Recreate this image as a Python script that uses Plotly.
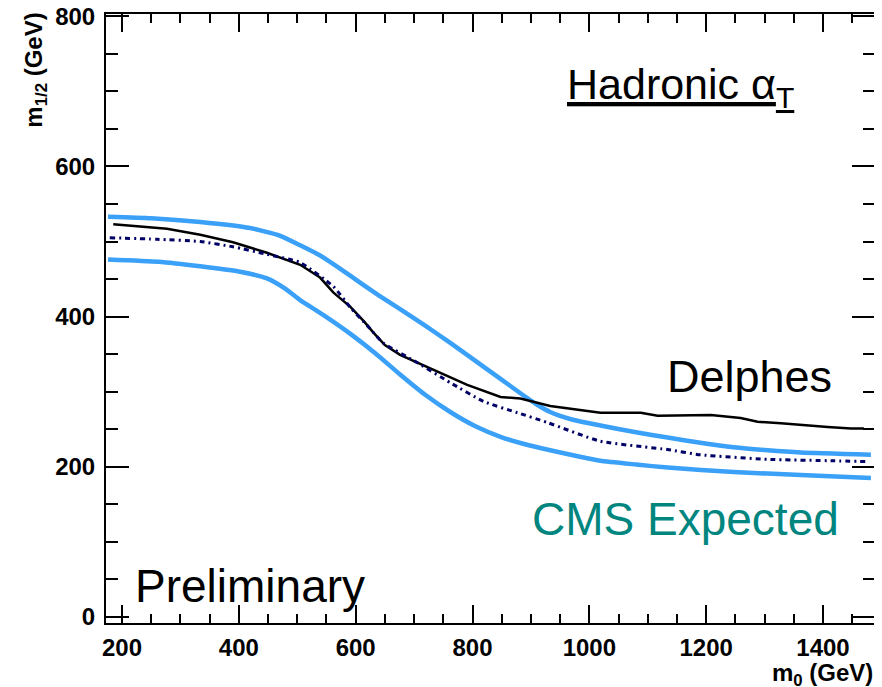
import plotly.graph_objects as go

# CMS expected limit, upper band (+1 sigma)
up_x = [176, 250, 334, 419, 470, 505, 540, 575, 610, 640, 676, 719, 762, 805, 848, 882, 910, 933, 970, 1019, 1080, 1134, 1190, 1247, 1305, 1362, 1482]
up_y = [533, 531, 526, 518, 508, 495, 481, 463, 444, 428, 410, 388, 365, 341, 317, 298, 283, 273, 263, 255, 246, 239, 232, 226, 222, 219, 216]

# CMS expected limit, lower band (-1 sigma)
lo_x = [176, 262, 334, 400, 448, 478, 505, 533, 562, 591, 634, 676, 719, 762, 805, 848, 890, 933, 980, 1019, 1080, 1134, 1247, 1362, 1482]
lo_y = [476, 473, 467, 460, 451, 438, 422, 408, 393, 377, 351, 323, 296, 273, 254, 240, 230, 222, 214, 208, 203, 199, 193, 189, 185]

# CMS expected (central, dash-dot)
exp_x = [179, 260, 334, 390, 448, 505, 562, 591, 620, 647, 705, 762, 819, 877, 928, 1019, 1134, 1190, 1305, 1419, 1477]
exp_y = [505, 503, 500, 493, 483, 472, 440, 412, 388, 365, 339, 312, 287, 272, 259, 234, 223, 216, 210, 208, 207]

# Delphes
del_x = [185, 277, 334, 390, 448, 505, 539, 562, 591, 615, 630, 650, 676, 733, 791, 848, 882, 933, 1019, 1088, 1117, 1208, 1259, 1288, 1328, 1408, 1448, 1470]
del_y = [523, 517, 509, 499, 485, 469, 452, 432, 413, 393, 379, 362, 349, 329, 309, 293, 291, 281, 272, 272, 268, 269, 265, 260, 258, 253, 251, 251]

x_ticks = [200, 400, 600, 800, 1000, 1200, 1400]
y_ticks = [0, 200, 400, 600, 800]

BLUE = "#3aa0f8"
NAVY = "#000066"

fig = go.Figure()
fig.add_trace(go.Scatter(x=up_x, y=up_y, mode="lines", line=dict(color=BLUE, width=4.5, shape="spline", smoothing=0.5), showlegend=False))
fig.add_trace(go.Scatter(x=lo_x, y=lo_y, mode="lines", line=dict(color=BLUE, width=4.5, shape="spline", smoothing=0.5), showlegend=False))
fig.add_trace(go.Scatter(x=del_x, y=del_y, mode="lines", line=dict(color="black", width=2.5), showlegend=False))
fig.add_trace(go.Scatter(x=exp_x, y=exp_y, mode="lines", line=dict(color=NAVY, width=3, dash="5px,4px,2px,4px", shape="spline", smoothing=0.5), showlegend=False))

tickfont = dict(family="Liberation Sans", size=24, color="black", weight="bold")

# page body has an 8px margin: figure is 874x679 so its visible frame matches the 882x687 window
fig.update_layout(
    width=874, height=679,
    margin=dict(l=98, r=7, t=6, b=64, autoexpand=False),
    paper_bgcolor="white", plot_bgcolor="white",
    xaxis=dict(range=[172.6, 1489], tickvals=x_ticks, ticktext=[str(v) for v in x_ticks],
               ticks="inside", ticklen=18, tickwidth=1.5, tickcolor="black",
               minor=dict(dtick=50, tick0=0, ticks="inside", ticklen=9, tickwidth=1.5, tickcolor="black"),
               showline=True, linecolor="black", linewidth=2, mirror="ticks",
               showgrid=False, zeroline=False, tickfont=tickfont, ticklabelstandoff=2,
               ticklabeloverflow="allow", automargin=False),
    yaxis=dict(range=[-8, 803], tickvals=y_ticks, ticktext=[str(v) for v in y_ticks],
               ticks="inside", ticklen=23, tickwidth=1.5, tickcolor="black",
               minor=dict(dtick=50, tick0=0, ticks="inside", ticklen=12, tickwidth=1.5, tickcolor="black"),
               showline=True, linecolor="black", linewidth=2, mirror="ticks",
               showgrid=False, zeroline=False, tickfont=tickfont, ticklabelstandoff=4,
               ticklabeloverflow="allow", automargin=False),
)

txt = dict(family="Liberation Sans", size=45, color="black")
fig.add_annotation(x=0.597, y=0.880, xref="paper", yref="paper", xanchor="left", yanchor="middle",
                   text="Hadronic α<sub>T</sub>", showarrow=False,
                   font=dict(family="Liberation Sans", size=43, color="black", lineposition="under"))
fig.add_annotation(x=0.727, y=0.4046, xref="paper", yref="paper", xanchor="left", yanchor="middle",
                   text="Delphes", showarrow=False, font=txt)
fig.add_annotation(x=0.551, y=0.171, xref="paper", yref="paper", xanchor="left", yanchor="middle",
                   text="CMS Expected", showarrow=False, font=dict(family="Liberation Sans", size=46, color="#00857f"))
fig.add_annotation(x=0.0351, y=0.0609, xref="paper", yref="paper", xanchor="left", yanchor="middle",
                   text="Preliminary", showarrow=False, font=dict(family="Liberation Sans", size=46, color="black"))

axfont = dict(family="Liberation Sans", size=24, color="black", weight="bold")
fig.add_annotation(x=1.0, y=-0.084, xref="paper", yref="paper", xanchor="right", yanchor="middle",
                   text="m<sub>0</sub> (GeV)", showarrow=False, font=axfont)
fig.add_annotation(x=-0.092, y=1.005, xref="paper", yref="paper", xanchor="center", yanchor="top",
                   text="m<sub>1/2</sub> (GeV)", textangle=-90, showarrow=False, font=axfont)

fig.write_html("out.html")
